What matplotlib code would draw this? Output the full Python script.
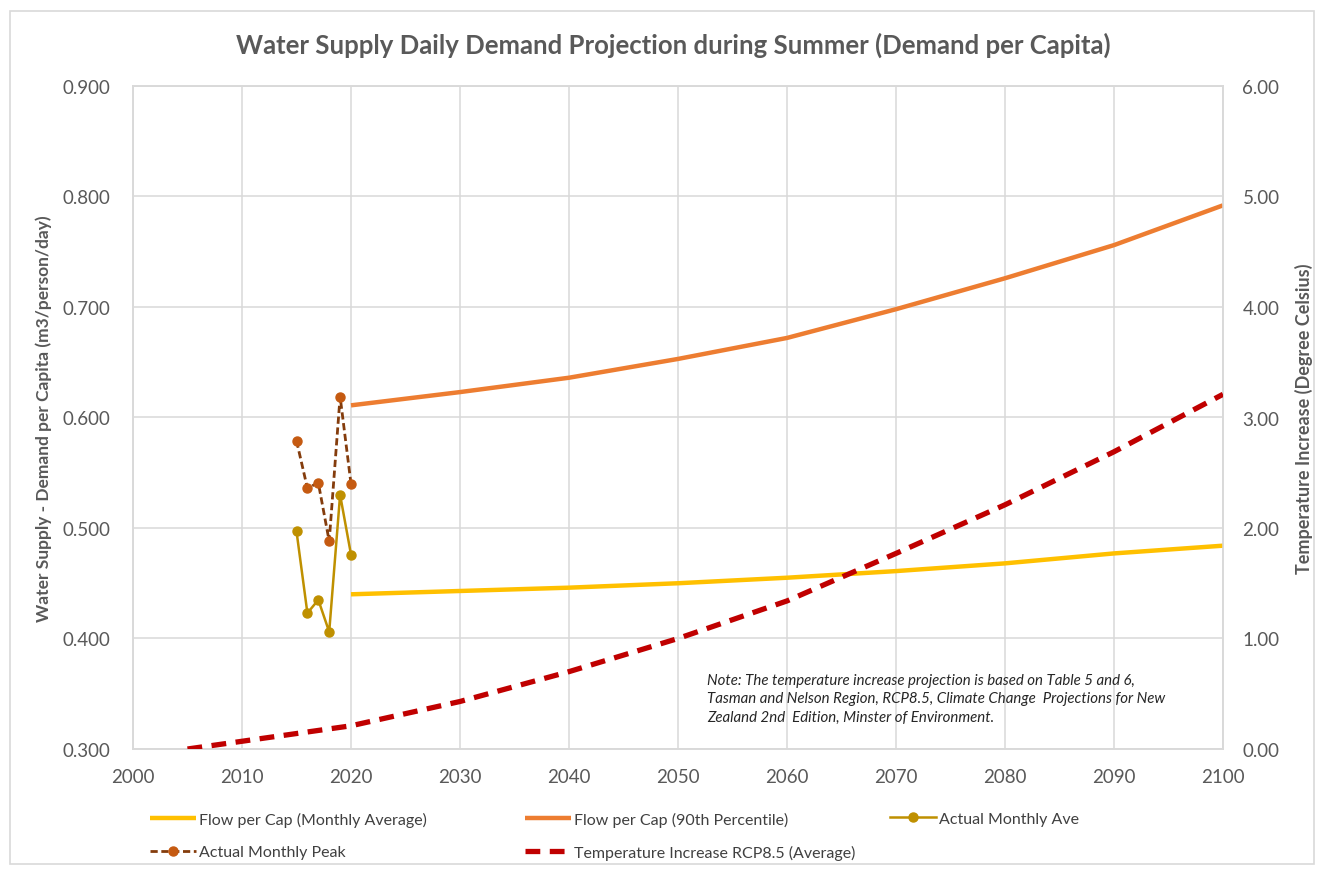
import matplotlib
matplotlib.use("Agg")
import matplotlib.pyplot as plt
from matplotlib.patches import Rectangle

# ---- data ----
proj_years = [2020, 2030, 2040, 2050, 2060, 2070, 2080, 2090, 2100]
flow_avg = [0.440, 0.443, 0.446, 0.450, 0.455, 0.461, 0.468, 0.477, 0.484]
flow_p90 = [0.611, 0.623, 0.636, 0.653, 0.672, 0.698, 0.726, 0.756, 0.792]

actual_years = [2015, 2016, 2017, 2018, 2019, 2020]
actual_ave = [0.497, 0.423, 0.435, 0.406, 0.530, 0.476]
actual_peak = [0.579, 0.536, 0.541, 0.488, 0.619, 0.540]

temp_years = [2005, 2010, 2020, 2030, 2040, 2050, 2060, 2070, 2080, 2090, 2100]
temp_inc = [0.00, 0.07, 0.21, 0.43, 0.70, 1.00, 1.34, 1.77, 2.21, 2.69, 3.21]

x_ticks = list(range(2000, 2101, 10))
left_ticks = [0.3, 0.4, 0.5, 0.6, 0.7, 0.8, 0.9]
right_ticks = [0, 1, 2, 3, 4, 5, 6]

title = "Water Supply Daily Demand Projection during Summer (Demand per Capita)"
ylabel_left = "Water Supply - Demand per Capita (m3/person/day)"
ylabel_right = "Temperature Increase (Degree Celsius)"
note = ("Note: The temperature increase projection is based on Table 5 and 6,\n"
        "Tasman and Nelson Region, RCP8.5, Climate Change  Projections for New\n"
        "Zealand 2nd  Edition, Minster of Environment.")
labels = ["Flow per Cap (Monthly Average)", "Flow per Cap (90th Percentile)",
          "Actual Monthly Ave", "Actual Monthly Peak",
          "Temperature Increase RCP8.5 (Average)"]

# ---- style ----
plt.rcParams['font.family'] = ['Lato', 'DejaVu Sans']
TXT = "#595959"
GRID = "#D9D9D9"
C_AVG = "#FFC000"
C_P90 = "#ED7D31"
C_ACT = "#BF9000"
C_PEAK_LINE = "#843C0C"
C_PEAK_MK = "#C55A11"
C_TEMP = "#C00000"

fig = plt.figure(figsize=(13.24, 8.70), dpi=100)
fig.patches.append(Rectangle((10/1324, 5/870), 1304/1324, 853/870, transform=fig.transFigure,
                             fill=False, edgecolor="#D9D9D9", linewidth=1.2))
ax = fig.add_axes([133/1324, 1 - 750/870, (1223-133)/1324, (750-87)/870])
ax2 = ax.twinx()

ax.set_xlim(2000, 2100)
ax.set_ylim(0.3, 0.9)
ax2.set_ylim(0, 6)
ax.set_xticks(x_ticks)
ax.set_yticks(left_ticks)
ax2.set_yticks(right_ticks)
ax.set_yticklabels([f"{v:.3f}" for v in left_ticks])
ax2.set_yticklabels([f"{v:.2f}" for v in right_ticks])
ax.grid(True, color=GRID, linewidth=1.1)
ax.set_axisbelow(True)
for a in (ax, ax2):
    for s in a.spines.values():
        s.set_color(GRID)
        s.set_linewidth(1.1)
    a.tick_params(length=0, labelsize=13.5, labelcolor=TXT)
ax.tick_params(axis='y', pad=16)
ax.tick_params(axis='x', pad=14)
ax2.tick_params(axis='y', pad=14)

l1, = ax.plot(proj_years, flow_avg, color=C_AVG, linewidth=3.2, solid_capstyle='butt', zorder=3)
l2, = ax.plot(proj_years, flow_p90, color=C_P90, linewidth=3.2, solid_capstyle='butt', zorder=3)
l3, = ax.plot(actual_years, actual_ave, color=C_ACT, linewidth=1.8, marker='o', markersize=6.5,
              markerfacecolor=C_ACT, markeredgecolor=C_ACT, zorder=4)
l4, = ax.plot(actual_years, actual_peak, color=C_PEAK_LINE, linewidth=2.0, linestyle=(0, (2.6, 1.3)),
              marker='o', markersize=6.5, markerfacecolor=C_PEAK_MK, markeredgecolor=C_PEAK_MK, zorder=4)
l5, = ax2.plot(temp_years, temp_inc, color=C_TEMP, linewidth=3.8, linestyle=(0, (2.8, 1.8)), zorder=3)

fig.text(673/1324, 1 - 45/870, title, ha='center', va='center', fontsize=18.5,
         fontweight='bold', color=TXT)
ax.set_ylabel(ylabel_left, fontsize=12.5, fontweight='bold', color=TXT)
ax.yaxis.set_label_coords(-0.074, 0.5)
ax2.set_ylabel(ylabel_right, fontsize=13, fontweight='bold', color=TXT, rotation=90)
ax2.yaxis.set_label_coords(1.066, 0.5)

ax.text(0.527, 0.115, note, transform=ax.transAxes, ha='left', va='top', fontsize=10.8,
        style='italic', color="#262626", linespacing=1.4)

# ---- legend ----
handles = [l1, l2, l3, l4, l5]
lpos = [(150, 820), (525, 820), (890, 820), (150, 853), (525, 853)]
for h, lab, (px, py) in zip(handles, labels, lpos):
    fig.legend([h], [lab], loc='center left', bbox_to_anchor=(px/1324, 1 - py/870),
               frameon=False, fontsize=11.5, handlelength=2.9, handletextpad=0.15,
               labelcolor="#404040", borderaxespad=0, borderpad=0)

fig.savefig("out.png", dpi=100)
